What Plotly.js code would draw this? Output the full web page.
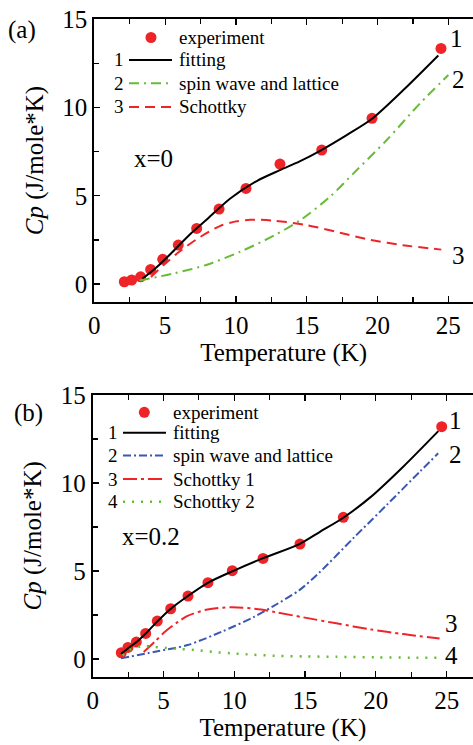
<!DOCTYPE html>
<html>
<head>
<meta charset="utf-8">
<script src="https://cdn.plot.ly/plotly-3.0.1.min.js"></script>
<style>html,body{margin:0;padding:0;background:#fff;}#plot{width:473px;height:745px;}</style>
</head>
<body>
<div id="plot"></div>
<script>
// ---------- Panel (a): x = 0 ----------
const expA_T  = [2.12, 2.64, 3.27, 3.98, 4.83, 5.93, 7.23, 8.81, 10.71, 13.11, 16.06, 19.61, 24.48];
const expA_Cp = [0.13, 0.23, 0.41, 0.83, 1.40, 2.21, 3.15, 4.25, 5.42, 6.80, 7.59, 9.39, 13.35];
const fitA_T  = [3.4, 4.4, 5.5, 6.8, 8.0, 9.6, 11.5, 13.1, 14.5, 15.94, 17.82, 19.59, 21.82, 24.29];
const fitA_Cp = [0.3, 0.95, 1.8, 2.85, 3.7, 4.85, 5.85, 6.45, 6.95, 7.55, 8.44, 9.35, 10.99, 12.95];
const swA_T   = [3.2, 5.6, 7.9, 10.3, 12.7, 14.6, 16.65, 18.3, 20.65, 23.0, 25.0];
const swA_Cp  = [0.2, 0.6, 1.08, 1.83, 2.75, 3.65, 4.95, 6.27, 8.16, 10.24, 11.84];
const schA_T  = [4.0, 4.9, 6.0, 7.5, 8.9, 10.0, 11.0, 12.6, 15.0, 17.35, 19.5, 21.8, 24.5];
const schA_Cp = [0.4, 1.08, 1.83, 2.68, 3.3, 3.55, 3.64, 3.6, 3.34, 2.91, 2.5, 2.2, 1.95];

// ---------- Panel (b): x = 0.2 ----------
const expB_T  = [2.02, 2.49, 3.08, 3.74, 4.56, 5.51, 6.73, 8.14, 9.86, 12.03, 14.64, 17.7, 24.65];
const expB_Cp = [0.36, 0.66, 0.97, 1.46, 2.16, 2.86, 3.58, 4.34, 5.02, 5.72, 6.53, 8.05, 13.2];
const fitB_T  = [2.0, 2.5, 3.1, 3.75, 4.55, 5.5, 6.7, 8.1, 9.9, 12.0, 14.6, 16.05, 17.7, 19.58, 21.93, 24.41];
const fitB_Cp = [0.3, 0.62, 0.97, 1.45, 2.13, 2.85, 3.57, 4.32, 5.0, 5.72, 6.53, 7.23, 8.03, 9.17, 10.93, 12.95];
const swB_T   = [2.0, 4.4, 6.7, 9.1, 11.4, 12.7, 14.6, 16.05, 18.4, 20.76, 23.1, 24.4];
const swB_Cp  = [0.04, 0.42, 0.8, 1.55, 2.4, 2.98, 3.92, 4.95, 6.86, 8.75, 10.64, 11.69];
const s1B_T   = [3.6, 4.4, 5.1, 6.0, 6.7, 8.1, 9.8, 11.9, 13.0, 14.9, 17.2, 19.6, 21.9, 24.5];
const s1B_Cp  = [0.4, 1.0, 1.55, 2.1, 2.45, 2.82, 2.94, 2.82, 2.65, 2.37, 2.03, 1.69, 1.42, 1.17];
const s2B_T   = [2.1, 2.7, 3.5, 4.3, 5.1, 6.2, 7.4, 8.6, 9.8, 11.3, 12.9, 15.0, 17.2, 20.0, 22.5, 24.5];
const s2B_Cp  = [0.2, 0.55, 0.74, 0.7, 0.64, 0.57, 0.5, 0.4, 0.33, 0.25, 0.19, 0.15, 0.13, 0.1, 0.08, 0.07];

const namesA = ["experiment", "fitting", "spin wave and lattice", "Schottky"];
const namesB = ["experiment", "fitting", "spin wave and lattice", "Schottky 1", "Schottky 2"];
const curveNumsA = ["1", "2", "3"];
const curveNumsB = ["1", "2", "3", "4"];
const xTickVals = [0, 5, 10, 15, 20, 25];
const yTickVals = [0, 5, 10, 15];

const W = 473, H = 745;
const px = v => v / W;
const py = v => 1 - v / H;
const FONT = "Liberation Serif";
const RED = "#ee2428", GREEN = "#66bd33", BLUE = "#3a57b5";

const styleA = [
  {color: "#000", width: 2, dash: "solid"},
  {color: GREEN, width: 2, dash: "10px,5px,2px,5px"},
  {color: RED, width: 2, dash: "10px,6px"}
];
const styleB = [
  {color: "#000", width: 2, dash: "solid"},
  {color: BLUE, width: 2, dash: "8px,3px,2px,3px"},
  {color: RED, width: 2, dash: "14px,4px,3px,4px"},
  {color: GREEN, width: 2.5, dash: "2px,7px"}
];

const lineSeriesA = [[fitA_T, fitA_Cp], [swA_T, swA_Cp], [schA_T, schA_Cp]];
const lineSeriesB = [[fitB_T, fitB_Cp], [swB_T, swB_Cp], [s1B_T, s1B_Cp], [s2B_T, s2B_Cp]];

const traces = [];
traces.push({x: expA_T, y: expA_Cp, name: namesA[0], mode: "markers", marker: {color: RED, size: 11}, xaxis: "x", yaxis: "y"});
lineSeriesA.forEach((s, i) => traces.push({x: s[0], y: s[1], name: namesA[i + 1], mode: "lines",
  line: Object.assign({shape: "spline", smoothing: 0.8}, styleA[i]), xaxis: "x", yaxis: "y"}));
traces.push({x: expB_T, y: expB_Cp, name: namesB[0], mode: "markers", marker: {color: RED, size: 11}, xaxis: "x2", yaxis: "y2"});
lineSeriesB.forEach((s, i) => traces.push({x: s[0], y: s[1], name: namesB[i + 1], mode: "lines",
  line: Object.assign({shape: "spline", smoothing: 0.8}, styleB[i]), xaxis: "x2", yaxis: "y2"}));

function xAxis(domainLeft, rangeRight, anchor) {
  return {
    domain: [domainLeft, 1], range: [0, rangeRight], anchor: anchor,
    tickvals: xTickVals, ticks: "inside", ticklen: 6, tickwidth: 1.2, tickcolor: "#000",
    minor: {dtick: 2.5, ticks: "inside", ticklen: 5, tickcolor: "#000"},
    showline: true, linecolor: "#000", linewidth: 2, mirror: "allticks",
    showgrid: false, zeroline: false,
    tickfont: {family: FONT, size: 25, color: "#000"},
    title: {text: "Temperature (K)", font: {family: FONT, size: 25, color: "#000"}, standoff: 2},
    automargin: false
  };
}
function yAxis(domain, anchor) {
  return {
    domain: domain, range: [-1, 15], anchor: anchor,
    tickvals: yTickVals, ticks: "inside", ticklen: 6, tickwidth: 1.2, tickcolor: "#000",
    minor: {dtick: 2.5, ticks: "inside", ticklen: 5, tickcolor: "#000"},
    showline: true, linecolor: "#000", linewidth: 2,
    showgrid: false, zeroline: false,
    tickfont: {family: FONT, size: 25, color: "#000"},
    title: {text: "<i>Cp</i> (J/mole*K)", font: {family: FONT, size: 25, color: "#000"}, standoff: 12},
    automargin: false
  };
}

const annFont = {family: FONT, size: 25, color: "#000"};
const legFont = {family: FONT, size: 19, color: "#000"};
function ann(xref, yref, x, y, text, font, xanchor) {
  return {xref: xref, yref: yref, x: x, y: y, text: text, showarrow: false, font: font,
    xanchor: xanchor || "center", yanchor: "middle"};
}
const annotations = [
  ann("paper", "paper", px(22), py(30), "(a)", annFont),
  ann("paper", "paper", px(28), py(413), "(b)", annFont),
  ann("x", "y", 2.66, 7.14, "x=0", annFont, "left"),
  ann("x2", "y2", 1.93, 6.95, "x=0.2", annFont, "left"),
  ann("x", "y", 25.6, 13.94, curveNumsA[0], annFont),
  ann("x", "y", 25.7, 11.6, curveNumsA[1], annFont),
  ann("x", "y", 25.7, 1.64, curveNumsA[2], annFont),
  ann("x2", "y2", 25.6, 13.58, curveNumsB[0], annFont),
  ann("x2", "y2", 25.6, 11.6, curveNumsB[1], annFont),
  ann("x2", "y2", 25.35, 2.05, curveNumsB[2], annFont),
  ann("x2", "y2", 25.35, 0.23, curveNumsB[3], annFont)
];
const shapes = [];

// Hand-built legends (number, line sample, label) to match the reference layout
function buildLegend(names, nums, styles, marker, numX, lineX0, lineX1, textX, rowsY) {
  shapes.push({type: "circle", xref: "paper", yref: "paper", xsizemode: "pixel", ysizemode: "pixel",
    xanchor: px(marker[0]), yanchor: py(marker[1]), x0: -5.5, x1: 5.5, y0: -5.5, y1: 5.5,
    fillcolor: RED, line: {width: 0}});
  annotations.push(ann("paper", "paper", px(textX), py(marker[1]), names[0], legFont, "left"));
  for (let i = 0; i < styles.length; i++) {
    const y = rowsY[i];
    shapes.push({type: "line", xref: "paper", yref: "paper", x0: px(lineX0), x1: px(lineX1), y0: py(y), y1: py(y),
      line: {color: styles[i].color, width: styles[i].width, dash: styles[i].dash}});
    annotations.push(ann("paper", "paper", px(numX), py(y), nums[i], legFont));
    annotations.push(ann("paper", "paper", px(textX), py(y), names[i + 1], legFont, "left"));
  }
}
buildLegend(namesA, curveNumsA, styleA, [151, 37.5], 119.5, 129, 172, 177, [60, 83.3, 107]);
buildLegend(namesB, curveNumsB, styleB, [144.3, 412.3], 113.3, 123, 166, 170.7, [432.7, 455.5, 479, 501.7]);

const layout = {
  width: W, height: H,
  margin: {l: 0, r: 0, t: 0, b: 0},
  paper_bgcolor: "#fff", plot_bgcolor: "#fff",
  font: {family: FONT, color: "#000"},
  xaxis: xAxis(px(94.3), 26.74, "y"),
  yaxis: yAxis([py(301.7), py(19.3)], "x"),
  xaxis2: xAxis(px(92.7), 26.86, "y2"),
  yaxis2: yAxis([py(676.7), py(395)], "x2"),
  annotations: annotations,
  shapes: shapes,
  showlegend: false
};

Plotly.newPlot("plot", traces, layout, {staticPlot: true, displayModeBar: false});
</script>
</body>
</html>
